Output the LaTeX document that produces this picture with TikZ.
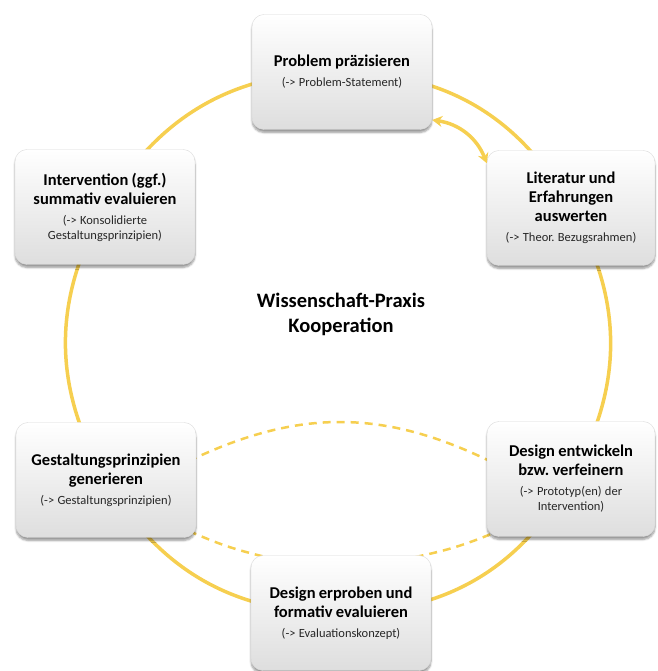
\documentclass[tikz,border=0pt]{standalone}
\usepackage{fontspec}
\setmainfont{Carlito}
\frenchspacing
\usetikzlibrary{arrows.meta,shadows.blur,backgrounds}
\definecolor{ringyellow}{RGB}{246,207,80}
\newcommand{\phasetext}[2]{{\fontsize{16.5}{19}\selectfont\bfseries #1\par}\vspace{5pt}{\fontsize{12.5}{15}\selectfont\color{black!85}#2\par}}
\tikzset{
  phase/.style={draw=black!15, rounded corners=12pt, top color=white, bottom color=black!13,
    text width=170pt, minimum height=115pt, inner sep=5pt, align=center,
    blur shadow={shadow xshift=0pt, shadow yshift=-3pt, shadow blur steps=6, shadow opacity=40}},
  ring/.style={draw=ringyellow, line width=3.5pt},
  loopdash/.style={draw=ringyellow, line width=2.5pt, dash pattern=on 8pt off 6pt, shorten <=-8pt, shorten >=-8pt}
}

\begin{document}
\begin{tikzpicture}[x=1pt, y=1pt]
\useasboundingbox (0,0) rectangle (657,671);
\node[phase] (p1) at (342,599) {\phasetext{Problem präzisieren}{(-> Problem-Statement)}};
\node[phase, text width=158pt] (p2) at (571,463) {\phasetext{Literatur und\\Erfahrungen\\auswerten}{(-> Theor. Bezugsrahmen)}};
\node[phase, text width=158pt] (p3) at (571,192) {\phasetext{Design entwickeln\\bzw. verfeinern}{(-> Prototyp(en) der\\Intervention)}};
\node[phase] (p4) at (341,58) {\phasetext{Design erproben und\\formativ evaluieren}{(-> Evaluationskonzept)}};
\node[phase] (p5) at (106,191) {\phasetext{Gestaltungsprinzipien\\generieren}{(-> Gestaltungsprinzipien)}};
\node[phase] (p6) at (105,464) {\phasetext{Intervention (ggf.)\\summativ evaluieren}{(-> Konsolidierte\\Gestaltungsprinzipien)}};
\node[align=center, font=\fontsize{20.5}{25}\selectfont\bfseries] (coop) at (341,357) {Wissenschaft-Praxis\\Kooperation};
\begin{scope}[on background layer]
\foreach \a/\b in {p1/p2,p2/p3,p3/p4,p4/p5,p5/p6,p6/p1}
  \draw[ring] (\a.center) to[bend left=30] (\b.center);
\draw[loopdash] (p5.14) to[bend left=26] (p3.167);
\draw[loopdash] (p5.-31) to[bend right=5] (p4.145);
\draw[loopdash] (p4.35) to[bend right=5] (p3.-146);
\end{scope}
\draw[ring, {Stealth[length=10pt,width=11pt]}-{Stealth[length=10pt,width=11pt]}] (p1.-28) to[bend left=30] (p2.152);
\end{tikzpicture}
\end{document}
